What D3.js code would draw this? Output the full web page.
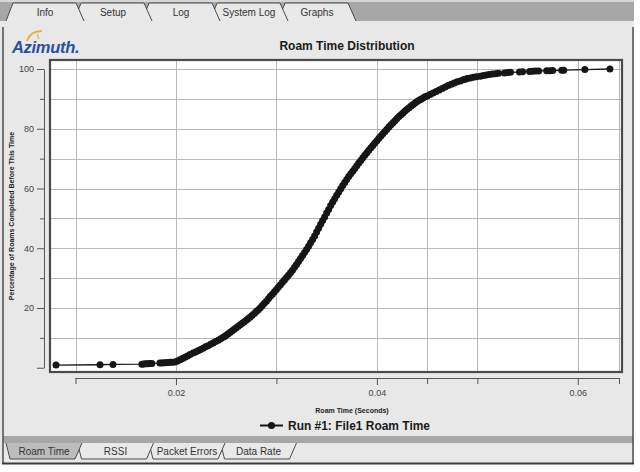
<!DOCTYPE html>
<html>
<head>
<meta charset="utf-8">
<script src="https://cdn.jsdelivr.net/npm/d3@7"></script>
<style>
  body { margin: 0; background: #fff; }
  svg { display: block; font-family: "Liberation Sans", Arial, Helvetica, sans-serif; }
  .grid line { stroke: #b9b9b9; stroke-width: 1; shape-rendering: crispEdges; }
  .tab path { stroke: #4a4a4a; stroke-width: 1; }
  .tab text { font-size: 10px; fill: #333; text-anchor: middle; }
  .axis text { font-size: 9px; fill: #444; font-family: "Liberation Sans", Arial, sans-serif; }
  .axis line, .axis path { stroke: #555; }
</style>
</head>
<body>
<script>
var topTabs = ["Info", "Setup", "Log", "System Log", "Graphs"];
var bottomTabs = ["Roam Time", "RSSI", "Packet Errors", "Data Rate"];

// y axis (percent)
var yLabelTicks = [0, 20, 40, 60, 80, 100];
var yMinorTicks = [10, 30, 50, 70, 90];
var yGridValues = [10, 20, 30, 40, 50, 60, 70, 80, 90, 100];

// x axis (roam time in ms, labelled in seconds)
var xLabelTicks = [20, 40, 60];
var xOtherTicks = [10, 30, 45, 50, 64.1];
var xGridValues = [10, 20, 30, 40, 45, 50, 60, 64.1];

var seriesName = "Run #1: File1 Roam Time";

// [roam time ms, % of roams completed before this time]
var roamCdf = [
  [8.06, 0.9], [12.44, 1.0], [13.73, 1.1],
  [16.6, 1.2], [16.8, 1.25], [17.0, 1.3], [17.2, 1.35], [17.4, 1.4], [17.6, 1.45],
  [18.4, 1.55], [18.6, 1.6], [18.8, 1.65], [19.0, 1.7], [19.2, 1.75], [19.4, 1.8], [19.65, 1.85],
  [19.9, 1.9], [20.15, 2.3], [20.4, 2.7], [20.65, 3.1], [20.9, 3.5], [21.15, 3.9], [21.4, 4.4], [21.7, 4.9],
  [21.95, 5.3], [22.2, 5.7], [22.45, 6.1], [22.7, 6.5], [22.95, 7.0], [23.2, 7.4], [23.45, 7.9], [23.7, 8.3],
  [23.95, 8.8], [24.2, 9.2], [24.45, 9.7], [24.7, 10.2], [24.85, 10.5],
  [25.0, 10.9], [25.2, 11.4], [25.4, 11.9], [25.6, 12.4], [25.8, 12.9], [26.0, 13.4], [26.2, 13.9], [26.4, 14.4],
  [26.6, 14.9], [26.8, 15.4], [27.0, 15.9], [27.2, 16.5], [27.4, 17.0], [27.6, 17.6], [27.8, 18.2], [28.0, 18.8],
  [28.2, 19.4], [28.4, 20.1], [28.6, 20.8], [28.8, 21.6], [29.0, 22.3], [29.2, 23.1], [29.4, 23.9], [29.6, 24.6],
  [29.8, 25.4], [30.0, 26.2], [30.2, 27.0], [30.4, 27.8], [30.6, 28.6], [30.8, 29.4], [31.0, 30.2], [31.2, 31.0],
  [31.4, 31.8], [31.6, 32.6], [31.8, 33.6], [32.0, 34.6], [32.2, 35.6], [32.4, 36.6], [32.6, 37.6], [32.8, 38.6],
  [33.0, 39.6], [33.2, 40.7], [33.4, 41.8], [33.6, 42.9], [33.8, 44.1], [34.0, 45.4], [34.2, 46.7], [34.4, 48.0],
  [34.6, 49.3], [34.8, 50.5], [35.0, 51.8], [35.2, 53.0], [35.4, 54.3], [35.6, 55.5], [35.8, 56.6], [36.0, 57.7],
  [36.2, 58.8], [36.4, 59.9], [36.6, 61.0], [36.8, 62.0], [37.0, 63.0], [37.2, 64.0], [37.4, 64.9], [37.6, 65.8],
  [37.8, 66.7], [38.0, 67.6], [38.2, 68.5], [38.4, 69.4], [38.6, 70.3], [38.8, 71.1], [39.0, 72.0], [39.2, 72.8],
  [39.4, 73.6], [39.6, 74.4], [39.8, 75.2], [40.0, 76.0], [40.2, 76.8], [40.4, 77.6], [40.6, 78.3], [40.8, 79.1],
  [41.0, 79.8], [41.2, 80.6], [41.4, 81.3], [41.6, 82.0], [41.8, 82.7], [42.0, 83.4], [42.2, 84.1], [42.4, 84.7],
  [42.6, 85.3], [42.8, 85.9], [43.0, 86.5], [43.2, 87.0], [43.4, 87.6], [43.6, 88.1], [43.8, 88.6], [44.0, 89.1],
  [44.2, 89.5], [44.4, 89.9], [44.6, 90.3], [44.8, 90.7], [45.0, 91.0],
  [45.3, 91.5], [45.6, 92.0], [45.9, 92.5], [46.2, 93.0], [46.5, 93.5], [46.8, 94.0], [47.1, 94.5], [47.4, 94.9],
  [47.7, 95.3], [48.0, 95.7], [48.3, 96.0],
  [48.6, 96.4], [48.8, 96.6], [49.0, 96.8], [49.3, 97.0], [49.6, 97.2], [49.9, 97.4],
  [50.3, 97.6], [50.6, 97.8], [50.9, 98.0], [51.2, 98.2],
  [51.5, 98.3], [51.8, 98.4], [52.1, 98.6],
  [52.7, 98.7], [53.0, 98.8], [53.3, 98.9],
  [54.2, 99.0], [54.5, 99.1],
  [55.2, 99.2], [55.5, 99.25], [55.8, 99.3], [56.1, 99.35],
  [56.9, 99.4], [57.2, 99.45], [57.5, 99.5],
  [58.4, 99.55], [58.6, 99.6],
  [60.7, 99.8], [63.2, 100]
];

var chart = {
  width: 640,
  height: 472,
  left: 50, top: 60, right: 622, bottom: 372,
  center: 347
};

var svg = d3.select("body").append("svg")
  .attr("width", chart.width)
  .attr("height", chart.height);

var x = d3.scaleLinear().domain([7.46, 64.4]).range([chart.left, chart.right]);
var y = d3.scaleLinear().domain([0, 100]).range([367.75, 69]);

draw_frame();
draw_plot();
draw_axes();
draw_series();
draw_texts();

function draw_frame(){
  // window panel
  svg.append("rect").attr("x", 0).attr("y", 0).attr("width", 634).attr("height", 464).attr("fill", "#e8e8e8");
  // top tab band
  svg.append("rect").attr("x", 0).attr("y", 0).attr("width", 634).attr("height", 21).attr("fill", "#a7a7a7");
  svg.append("rect").attr("x", 0).attr("y", 0).attr("width", 634).attr("height", 2).attr("fill", "#d6d6d6");

  var tt = svg.append("g").selectAll("g.tab")
    .data(topTabs.map(function(d, i){ return {name: d, i: i}; }).reverse())
    .enter().append("g").classed("tab", true)
    .attr("transform", function(d){ return "translate(" + (6 + 68 * d.i) + ",0)"; });
  tt.append("path")
    .attr("d", "M0,21L7,3L70,3L78,21")
    .attr("fill", "#e9e9e9");
  tt.append("text").attr("x", 39).attr("y", 15.5).text(function(d){ return d.name; });

  // bottom band + tabs
  svg.append("rect").attr("x", 3).attr("y", 436).attr("width", 630).attr("height", 7).attr("fill", "#a7a7a7");
  var bt = svg.append("g").selectAll("g.tab")
    .data(bottomTabs.map(function(d, i){ return {name: d, i: i}; }).reverse())
    .enter().append("g").classed("tab", true)
    .attr("transform", function(d){ return "translate(" + (6 + 71.5 * d.i) + ",0)"; });
  bt.append("path")
    .attr("d", "M0,443L4,459L69,459L76,443")
    .attr("fill", function(d){ return d.i === 0 ? "#bcbcbc" : "#e9e9e9"; });
  bt.append("text").attr("x", 38).attr("y", 455).text(function(d){ return d.name; });

  // window borders
  svg.append("line").attr("x1", 3).attr("x2", 3).attr("y1", 27).attr("y2", 464)
    .attr("stroke", "#4d4d4d").attr("stroke-width", 1.5);
  svg.append("line").attr("x1", 633).attr("x2", 633).attr("y1", 27).attr("y2", 464)
    .attr("stroke", "#4d4d4d").attr("stroke-width", 1.5);
  svg.append("line").attr("x1", 2).attr("x2", 634).attr("y1", 463.5).attr("y2", 463.5)
    .attr("stroke", "#3a3a3a").attr("stroke-width", 2);

  // logo
  var logo = svg.append("g");
  logo.append("path").attr("d", "M27,41 Q30,31 42,31")
    .attr("fill", "none").attr("stroke", "#e2b43c").attr("stroke-width", 1.8);
  logo.append("line").attr("x1", 37).attr("y1", 34).attr("x2", 39).attr("y2", 39)
    .attr("stroke", "#e2b43c").attr("stroke-width", 1.2);
  logo.append("text").attr("x", 12).attr("y", 53)
    .attr("font-size", 16.5).attr("font-weight", "bold").attr("font-style", "italic")
    .attr("fill", "#2c4f9f").attr("letter-spacing", -0.3)
    .text("Azimuth.");
}

function draw_plot(){
  svg.append("rect")
    .attr("x", chart.left).attr("y", chart.top)
    .attr("width", chart.right - chart.left).attr("height", chart.bottom - chart.top)
    .attr("fill", "#fff");

  var grid = svg.append("g").classed("grid", true);
  grid.selectAll("line.h").data(yGridValues).enter().append("line")
    .attr("x1", chart.left).attr("x2", chart.right)
    .attr("y1", function(d){ return Math.round(y(d)) + 0.5; })
    .attr("y2", function(d){ return Math.round(y(d)) + 0.5; });
  grid.selectAll("line.v").data(xGridValues).enter().append("line")
    .attr("y1", chart.top).attr("y2", chart.bottom)
    .attr("x1", function(d){ return Math.round(x(d)) + 0.5; })
    .attr("x2", function(d){ return Math.round(x(d)) + 0.5; });

  svg.append("rect")
    .attr("x", chart.left).attr("y", chart.top)
    .attr("width", chart.right - chart.left).attr("height", chart.bottom - chart.top)
    .attr("fill", "none").attr("stroke", "#4a4a4a").attr("stroke-width", 2.2);
}

function draw_axes(){
  //y major with labels
  svg.append("g").classed("axis", true)
    .attr("transform", "translate(44,0)")
    .call(d3.axisLeft(y).tickValues(yLabelTicks).tickSize(7).tickSizeOuter(0).tickPadding(3)
      .tickFormat(function(d){ return d === 0 ? "" : d; }));
  //y minor
  svg.append("g").classed("axis", true)
    .attr("transform", "translate(44,0)")
    .call(d3.axisLeft(y).tickValues(yMinorTicks).tickSize(4).tickFormat(""))
    .select(".domain").remove();

  //x labelled
  var xa = svg.append("g").classed("axis", true)
    .attr("transform", "translate(0,378)")
    .call(d3.axisBottom(x).tickValues(xLabelTicks).tickSize(7).tickPadding(5)
      .tickFormat(function(d){ return d3.format(".2f")(d / 1000); }));
  xa.select(".domain").remove();
  var xb = svg.append("g").classed("axis", true)
    .attr("transform", "translate(0,378)")
    .call(d3.axisBottom(x).tickValues(xOtherTicks).tickSize(6).tickFormat(""));
  xb.select(".domain").remove();
  svg.append("line")
    .attr("x1", x(xOtherTicks[0])).attr("x2", x(xOtherTicks[xOtherTicks.length - 1]))
    .attr("y1", 378.5).attr("y2", 378.5)
    .attr("stroke", "#555");
}

function draw_series(){
  var line = d3.line()
    .x(function(d){ return x(d[0]); })
    .y(function(d){ return y(d[1]); });
  var g = svg.append("g");
  g.append("path").datum(roamCdf)
    .attr("d", line)
    .attr("fill", "none").attr("stroke", "#161616").attr("stroke-width", 1.3);
  g.selectAll("circle").data(roamCdf).enter().append("circle")
    .attr("cx", function(d){ return x(d[0]); })
    .attr("cy", function(d){ return y(d[1]); })
    .attr("r", 3.5)
    .attr("fill", "#161616");
}

function draw_texts(){
  svg.append("text")
    .attr("x", chart.center).attr("y", 49.5)
    .attr("text-anchor", "middle").attr("font-size", 12).attr("font-weight", "bold")
    .attr("fill", "#1a1a1a")
    .text("Roam Time Distribution");

  svg.append("text")
    .attr("transform", "translate(13.5,216) rotate(-90)")
    .attr("text-anchor", "middle").attr("font-size", 7).attr("font-weight", "bold")
    .attr("fill", "#222")
    .text("Percentage of Roams Completed Before This Time");

  svg.append("text")
    .attr("x", 352).attr("y", 412.5)
    .attr("text-anchor", "middle").attr("font-size", 7).attr("font-weight", "bold")
    .attr("fill", "#222")
    .text("Roam Time (Seconds)");

  var lg = svg.append("g");
  lg.append("line").attr("x1", 260).attr("x2", 283).attr("y1", 425.5).attr("y2", 425.5)
    .attr("stroke", "#161616").attr("stroke-width", 2);
  lg.append("circle").attr("cx", 271.5).attr("cy", 425.5).attr("r", 3.6).attr("fill", "#161616");
  lg.append("text").attr("x", 288).attr("y", 430)
    .attr("font-size", 13).attr("font-weight", "bold").attr("fill", "#1a1a1a")
    .attr("textLength", 142).attr("lengthAdjust", "spacingAndGlyphs")
    .text(seriesName);
}
</script>
</body>
</html>
